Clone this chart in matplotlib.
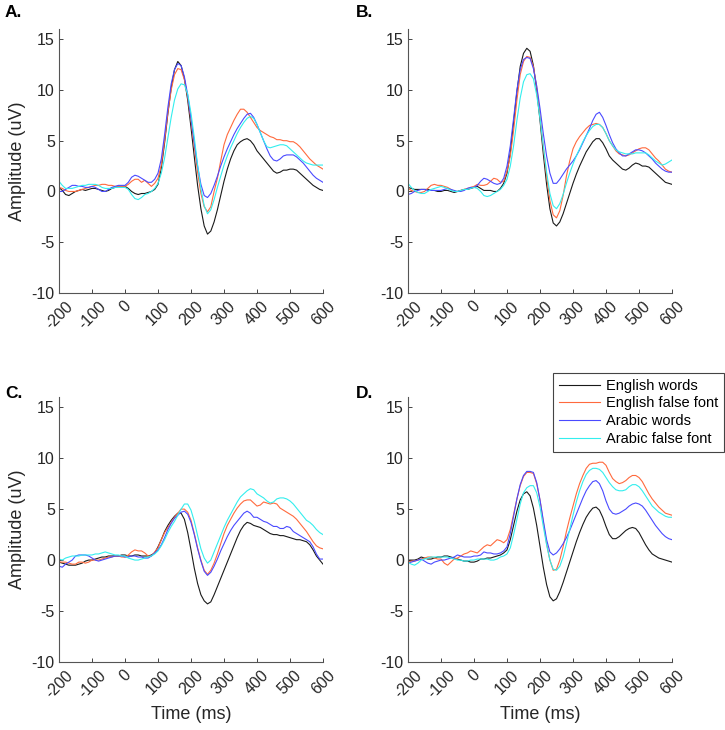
import matplotlib
matplotlib.use("Agg")
import matplotlib.pyplot as plt

plt.rcParams['font.family'] = ['Liberation Sans', 'DejaVu Sans']

# time axis (ms), 10 ms steps
time_ms = list(range(-200, 601, 10))

series_names = ["English words", "English false font", "Arabic words", "Arabic false font"]
series_colors = ["#1a1a1a", "#ff6a3d", "#4a4aff", "#33eeee"]
panel_labels = ["A.", "B.", "C.", "D."]
xticks = [-200, -100, 0, 100, 200, 300, 400, 500, 600]
yticks = [-10, -5, 0, 5, 10, 15]

# ---------------- Panel A ----------------
EW_A = [0.4, 0.1, -0.3, -0.4, -0.2, 0.0, 0.1, 0.2, 0.1, 0.2,
        0.3, 0.3, 0.2, 0.1, 0.0, 0.1, 0.3, 0.4, 0.5, 0.5,
        0.5, 0.3, 0.0, -0.2, -0.3, -0.2, -0.2, -0.1, 0.0, 0.2,
        0.7, 2.3, 4.8, 7.7, 10.2, 12.0, 12.8, 12.4, 11.1, 9.0,
        6.3, 3.4, 0.6, -1.7, -3.4, -4.2, -3.9, -3.0, -1.8, -0.4,
        1.0, 2.2, 3.2, 4.0, 4.6, 4.9, 5.1, 5.2, 5.0, 4.6,
        4.0, 3.6, 3.2, 2.8, 2.4, 2.0, 1.8, 1.9, 2.1, 2.1,
        2.2, 2.2, 2.1, 1.8, 1.5, 1.2, 0.9, 0.6, 0.4, 0.2,
        0.1]
OF_A = [0.4, 0.3, 0.1, 0.0, 0.0, 0.0, 0.1, 0.2, 0.3, 0.4,
        0.5, 0.6, 0.6, 0.7, 0.7, 0.6, 0.6, 0.5, 0.5, 0.5,
        0.5, 0.7, 1.0, 1.2, 1.2, 0.9, 1.1, 0.8, 0.5, 0.8,
        1.3, 2.6, 5.0, 7.8, 10.0, 11.5, 12.1, 12.0, 11.0, 9.3,
        7.0, 4.4, 1.9, -0.2, -1.5, -2.0, -1.5, 0.0, 1.3, 3.0,
        4.6, 5.6, 6.3, 7.0, 7.6, 8.1, 8.1, 7.8, 7.3, 6.8,
        6.3, 6.0, 5.8, 5.6, 5.4, 5.3, 5.1, 5.1, 5.0, 5.0,
        4.9, 4.9, 4.7, 4.4, 4.0, 3.6, 3.2, 2.9, 2.6, 2.4,
        2.2]
BW_A = [0.0, 0.0, 0.2, 0.4, 0.6, 0.6, 0.5, 0.5, 0.4, 0.4,
        0.5, 0.4, 0.2, 0.0, 0.0, 0.2, 0.4, 0.5, 0.6, 0.6,
        0.6, 0.9, 1.4, 1.6, 1.5, 1.3, 1.1, 0.9, 0.9, 1.2,
        1.8, 3.2, 5.6, 8.3, 10.6, 12.0, 12.6, 12.4, 11.3, 9.5,
        7.2, 4.8, 2.5, 0.7, -0.4, -0.6, -0.2, 0.6, 1.5, 2.5,
        3.4, 4.2, 4.9, 5.6, 6.2, 6.7, 7.2, 7.6, 7.7, 7.3,
        6.6, 5.8, 5.0, 4.2, 3.5, 3.1, 3.0, 3.2, 3.5, 3.6,
        3.6, 3.6, 3.4, 3.1, 2.8, 2.4, 2.0, 1.6, 1.3, 1.1,
        0.9]
CF_A = [1.0, 0.6, 0.3, 0.3, 0.3, 0.4, 0.5, 0.6, 0.6, 0.7,
        0.7, 0.7, 0.6, 0.4, 0.3, 0.3, 0.3, 0.4, 0.4, 0.4,
        0.4, 0.2, -0.3, -0.7, -0.8, -0.6, -0.3, -0.2, 0.0, 0.3,
        0.8, 1.8, 3.3, 5.3, 7.3, 9.0, 10.1, 10.6, 10.5, 9.6,
        7.7, 5.3, 2.6, 0.3, -1.4, -2.2, -1.8, -0.8, 0.4, 1.5,
        2.6, 3.5, 4.3, 5.0, 5.7, 6.3, 6.8, 7.2, 7.4, 7.2,
        6.6, 5.8, 5.0, 4.4, 4.3, 4.4, 4.5, 4.6, 4.6, 4.5,
        4.2, 3.9, 3.6, 3.3, 3.0, 2.8, 2.7, 2.6, 2.6, 2.6,
        2.6]

# ---------------- Panel B ----------------
EW_B = [0.4, 0.3, 0.2, 0.2, 0.2, 0.2, 0.2, 0.1, 0.1, 0.0,
        0.0, 0.1, 0.1, 0.0, -0.1, 0.0, 0.1, 0.2, 0.2, 0.3,
        0.4, 0.5, 0.3, 0.1, 0.1, 0.1, 0.0, 0.0, 0.3, 0.8,
        1.8, 3.8, 6.8, 9.8, 12.3, 13.6, 14.1, 13.8, 12.4, 10.0,
        7.0, 3.7, 0.7, -1.7, -3.1, -3.4, -3.0, -2.2, -1.2, -0.2,
        0.8, 1.7, 2.5, 3.2, 3.9, 4.4, 4.9, 5.2, 5.2, 4.8,
        4.2, 3.5, 3.1, 2.8, 2.5, 2.2, 2.1, 2.3, 2.6, 2.8,
        2.7, 2.5, 2.5, 2.4, 2.1, 1.8, 1.5, 1.2, 0.9, 0.8,
        0.7]
OF_B = [0.3, 0.1, 0.0, -0.1, -0.1, 0.0, 0.3, 0.6, 0.7, 0.6,
        0.6, 0.5, 0.4, 0.2, 0.0, 0.0, 0.1, 0.2, 0.3, 0.4,
        0.5, 0.7, 0.6, 0.6, 0.7, 1.0, 1.3, 1.2, 0.9, 1.0,
        2.0, 3.5, 6.0, 9.0, 11.5, 12.8, 13.3, 13.2, 12.3, 10.3,
        7.5, 4.4, 1.5, -0.9, -2.3, -2.6, -1.9, -0.4, 1.5, 3.0,
        4.2, 4.9, 5.4, 5.8, 6.2, 6.5, 6.6, 6.7, 6.6, 6.3,
        5.7, 5.0, 4.5, 4.0, 3.7, 3.6, 3.5, 3.6, 3.8, 4.0,
        4.2, 4.3, 4.3, 4.1, 3.7, 3.3, 3.0, 2.6, 2.2, 2.0,
        1.9]
BW_B = [-0.3, -0.2, 0.0, 0.1, 0.2, 0.2, 0.1, 0.1, 0.1, 0.1,
        0.1, 0.2, 0.3, 0.2, 0.1, 0.0, 0.0, 0.1, 0.3, 0.4,
        0.4, 0.6, 1.0, 1.3, 1.2, 1.0, 0.8, 0.7, 0.8, 1.3,
        2.5, 4.5, 7.2, 10.0, 12.0, 13.0, 13.2, 13.1, 12.1, 10.4,
        8.2, 5.7, 3.5, 1.8, 0.8, 0.8, 1.2, 1.7, 2.2, 2.6,
        3.0, 3.5, 4.1, 4.8, 5.5, 6.2, 7.0, 7.6, 7.8, 7.3,
        6.5, 5.6, 4.8, 4.2, 3.8, 3.5, 3.5, 3.7, 3.9, 4.1,
        4.1, 4.0, 3.8, 3.5, 3.2, 2.8, 2.5, 2.2, 2.0, 1.9,
        1.9]
CF_B = [0.8, 0.4, 0.1, -0.1, -0.2, -0.2, 0.0, 0.2, 0.3, 0.4,
        0.5, 0.4, 0.3, 0.1, 0.0, 0.0, 0.1, 0.2, 0.2, 0.3,
        0.4, 0.3, 0.0, -0.4, -0.5, -0.4, -0.2, 0.0, 0.2, 0.6,
        1.2, 2.5, 4.5, 7.0, 9.2, 10.8, 11.5, 11.6, 11.1, 9.5,
        7.2, 4.5, 1.9, -0.2, -1.4, -1.7, -1.2, -0.3, 0.8, 1.8,
        2.7, 3.5, 4.2, 4.9, 5.5, 6.0, 6.4, 6.6, 6.6, 6.3,
        5.7, 5.0, 4.5, 4.1, 3.9, 3.8, 3.7, 3.7, 3.7, 3.8,
        3.8, 3.8, 3.8, 3.6, 3.3, 3.0, 2.8, 2.6, 2.7, 2.9,
        3.1]

# ---------------- Panel C ----------------
EW_C = [-0.2, -0.3, -0.4, -0.5, -0.5, -0.5, -0.4, -0.3, -0.1, 0.0,
        0.0, 0.1, 0.2, 0.3, 0.3, 0.4, 0.4, 0.4, 0.4, 0.5,
        0.5, 0.4, 0.4, 0.5, 0.5, 0.4, 0.4, 0.4, 0.5, 0.7,
        1.3, 2.0, 2.8, 3.4, 3.9, 4.3, 4.6, 4.6, 4.0, 2.7,
        1.0, -0.8, -2.3, -3.4, -4.0, -4.3, -4.1, -3.4, -2.6, -1.8,
        -1.0, -0.2, 0.6, 1.4, 2.2, 2.9, 3.4, 3.7, 3.6, 3.4,
        3.3, 3.2, 3.0, 2.8, 2.6, 2.5, 2.5, 2.4, 2.4, 2.3,
        2.2, 2.1, 2.0, 2.0, 1.9, 1.8, 1.5, 1.0, 0.4, 0.0,
        -0.4]
OF_C = [-0.2, -0.2, -0.2, -0.3, -0.4, -0.4, -0.2, -0.2, -0.3, -0.2,
        0.0, 0.0, 0.0, 0.1, 0.2, 0.3, 0.3, 0.4, 0.4, 0.3,
        0.3, 0.5, 0.8, 1.0, 0.9, 0.9, 0.7, 0.4, 0.4, 0.8,
        1.2, 2.0, 2.7, 3.2, 3.7, 4.2, 4.6, 5.0, 5.0, 4.7,
        3.9, 2.6, 1.2, 0.0, -1.0, -1.4, -1.0, -0.3, 0.6, 1.6,
        2.6, 3.4, 4.0, 4.6, 5.1, 5.5, 5.8, 5.9, 5.9, 5.6,
        5.3, 5.4, 5.7, 5.6, 5.5, 5.6, 5.5, 5.1, 4.9, 4.7,
        4.5, 4.3, 4.0, 3.6, 3.2, 2.8, 2.3, 1.8, 1.4, 1.2,
        1.1]
BW_C = [-0.6, -0.7, -0.4, -0.2, 0.0, 0.4, 0.5, 0.5, 0.5, 0.4,
        0.2, 0.0, -0.1, 0.0, 0.1, 0.2, 0.3, 0.4, 0.4, 0.4,
        0.3, 0.3, 0.4, 0.4, 0.3, 0.3, 0.2, 0.2, 0.4, 0.7,
        1.0, 1.5, 2.2, 3.0, 3.6, 4.1, 4.4, 4.7, 4.8, 4.5,
        3.7, 2.5, 1.1, -0.1, -1.1, -1.5, -1.2, -0.6, 0.1, 0.9,
        1.6, 2.3, 2.9, 3.4, 3.8, 4.2, 4.6, 4.8, 4.6, 4.2,
        4.2, 4.0, 3.8, 3.7, 3.5, 3.3, 3.3, 3.1, 3.1, 3.3,
        3.2, 2.8, 2.6, 2.4, 2.2, 2.0, 1.8, 1.3, 0.6, 0.1,
        0.1]
CF_C = [0.1, 0.0, 0.2, 0.3, 0.4, 0.4, 0.4, 0.5, 0.5, 0.5,
        0.5, 0.6, 0.6, 0.7, 0.8, 0.7, 0.6, 0.5, 0.5, 0.4,
        0.4, 0.2, 0.1, 0.0, 0.0, 0.1, 0.2, 0.3, 0.4, 0.6,
        0.9, 1.4, 2.0, 2.7, 3.3, 3.8, 4.4, 5.0, 5.5, 5.5,
        4.9, 3.8, 2.4, 1.1, 0.2, -0.3, 0.0, 0.8, 1.6, 2.4,
        3.2, 3.9, 4.5, 5.1, 5.7, 6.2, 6.5, 6.8, 7.0, 6.9,
        6.5, 6.3, 6.1, 5.8, 5.6, 5.7, 6.0, 6.1, 6.1, 6.0,
        5.8, 5.5, 5.1, 4.7, 4.3, 3.9, 3.7, 3.4, 3.0, 2.7,
        2.5]

# ---------------- Panel D ----------------
EW_D = [0.0, 0.0, 0.0, 0.1, 0.3, 0.2, 0.1, 0.1, 0.2, 0.3,
        0.3, 0.4, 0.4, 0.3, 0.2, 0.1, 0.0, -0.1, -0.1, -0.2,
        -0.2, -0.1, 0.1, 0.1, 0.2, 0.2, 0.3, 0.4, 0.5, 0.7,
        1.0, 2.0, 3.4, 4.8, 5.9, 6.5, 6.7, 6.3, 5.1, 3.4,
        1.35, -0.7, -2.4, -3.6, -4.0, -3.8, -3.1, -2.2, -1.2, -0.2,
        0.8, 1.8, 2.7, 3.5, 4.2, 4.7, 5.1, 5.2, 4.9, 4.2,
        3.3, 2.5, 2.1, 2.1, 2.3, 2.6, 2.9, 3.1, 3.2, 3.1,
        2.7, 2.1, 1.5, 1.0, 0.6, 0.4, 0.2, 0.1, 0.0, -0.1,
        -0.2]
OF_D = [-0.2, -0.1, -0.1, 0.0, 0.1, 0.2, 0.3, 0.3, 0.2, 0.1,
        0.1, -0.3, -0.5, -0.2, 0.1, 0.2, 0.4, 0.6, 0.7, 0.9,
        0.8, 0.7, 1.0, 1.3, 1.5, 1.4, 1.7, 2.0, 1.9, 1.7,
        2.0, 3.0, 4.5, 6.0, 7.3, 8.2, 8.6, 8.6, 8.5, 7.5,
        5.9, 3.75, 1.6, 0.0, -1.0, -0.9, 0.0, 1.3, 2.8, 4.1,
        5.3, 6.5, 7.5, 8.3, 9.0, 9.4, 9.5, 9.5, 9.6, 9.6,
        9.3, 8.6, 8.0, 7.7, 7.5, 7.6, 7.8, 8.1, 8.3, 8.3,
        8.1, 7.7, 7.1, 6.5, 6.0, 5.6, 5.2, 4.9, 4.6, 4.5,
        4.4]
BW_D = [-0.3, -0.2, -0.1, 0.0, 0.1, -0.1, -0.3, -0.4, -0.2, -0.1,
        0.0, 0.0, 0.1, 0.2, 0.3, 0.5, 0.4, 0.3, 0.3, 0.3,
        0.4, 0.4, 0.5, 0.8, 0.7, 0.7, 0.6, 0.6, 0.7, 0.9,
        1.3, 2.6, 4.3, 6.0, 7.4, 8.3, 8.7, 8.7, 8.6, 7.6,
        5.9, 3.9, 2.0, 0.8, 0.5, 0.7, 1.1, 1.6, 2.2, 2.9,
        3.7, 4.5, 5.3, 6.1, 6.8, 7.3, 7.7, 7.8, 7.5, 6.8,
        5.8, 5.0, 4.6, 4.5, 4.6, 4.8, 5.0, 5.3, 5.5, 5.6,
        5.5, 5.3, 4.9, 4.4, 3.9, 3.4, 3.0, 2.6, 2.3, 2.1,
        2.0]
CF_D = [-0.2, -0.4, -0.5, -0.3, 0.0, 0.1, 0.2, 0.3, 0.3, 0.3,
        0.3, 0.3, 0.3, 0.2, 0.1, 0.0, 0.0, -0.1, -0.1, 0.0,
        0.0, 0.1, 0.1, 0.1, 0.1, 0.0, 0.0, 0.1, 0.3, 0.4,
        0.6, 1.2, 2.5, 4.0, 5.5, 6.6, 7.1, 7.3, 7.3, 6.6,
        5.2, 3.3, 1.5, 0.0, -0.9, -1.0, -0.6, 0.3, 1.6, 3.0,
        4.4, 5.7, 6.8, 7.7, 8.4, 8.8, 9.0, 9.0, 8.9, 8.6,
        8.1, 7.6, 7.2, 6.9, 6.8, 6.8, 6.9, 7.2, 7.4, 7.4,
        7.2, 6.8, 6.3, 5.8, 5.3, 5.0, 4.7, 4.5, 4.3, 4.2,
        4.2]

panels = [
    [EW_A, OF_A, BW_A, CF_A],
    [EW_B, OF_B, BW_B, CF_B],
    [EW_C, OF_C, BW_C, CF_C],
    [EW_D, OF_D, BW_D, CF_D],
]

W, H = 725, 730
fig = plt.figure(figsize=(W / 100, H / 100), dpi=100)

# axes rectangles in pixel coordinates (left, top, right, bottom)
rects_px = [(59, 29, 323, 293), (408, 29, 672, 293),
            (59, 397, 323, 662), (408, 397, 672, 662)]
label_px = [(5, 17), (356, 17), (5, 398), (356, 398)]

spine_col = "#262626"
axes = []
for i, (vals, (l, t, r, b)) in enumerate(zip(panels, rects_px)):
    ax = fig.add_axes([l / W, 1 - b / H, (r - l) / W, (b - t) / H])
    lines = []
    for s, name, col in zip(vals, series_names, series_colors):
        ln, = ax.plot(time_ms, s, color=col, lw=0.8, label=name)
        lines.append(ln)
    ax.set_xlim(-200, 600)
    ax.set_ylim(-10, 16)
    ax.set_xticks(xticks)
    ax.set_yticks(yticks)
    ax.set_xticklabels([str(v) for v in xticks], rotation=45, ha="center",
                       va="top", fontsize=11.5, color=spine_col)
    ax.set_yticklabels([str(v) for v in yticks], fontsize=11.5, color=spine_col)
    ax.tick_params(direction="in", length=3, width=0.6, color=spine_col, pad=3)
    ax.tick_params(axis="x", pad=4)
    for sp in ["top", "right"]:
        ax.spines[sp].set_visible(False)
    for sp in ["left", "bottom"]:
        ax.spines[sp].set_color("#555555")
        ax.spines[sp].set_linewidth(0.8)
    if i in (0, 2):
        ax.set_ylabel("Amplitude (uV)", fontsize=13, color=spine_col)
        ax.yaxis.set_label_coords(-0.125, 0.5)
    if i in (2, 3):
        ax.set_xlabel("Time (ms)", fontsize=13, color=spine_col)
        ax.xaxis.set_label_coords(0.5, -0.165)
    fig.text(label_px[i][0] / W, 1 - label_px[i][1] / H, panel_labels[i],
             fontsize=12.5, fontweight="bold", ha="left", va="baseline")
    axes.append((ax, lines))

leg = fig.legend(axes[3][1], series_names, loc="upper left",
                 bbox_to_anchor=(553 / W, 1 - 373 / H), bbox_transform=fig.transFigure,
                 fontsize=10.5, frameon=True, fancybox=False, framealpha=1,
                 edgecolor="#444444", handlelength=2.8, handletextpad=0.45,
                 labelspacing=0.25, borderpad=0.4, borderaxespad=0)
leg.get_frame().set_linewidth(0.8)

fig.savefig("out.png", dpi=100)
